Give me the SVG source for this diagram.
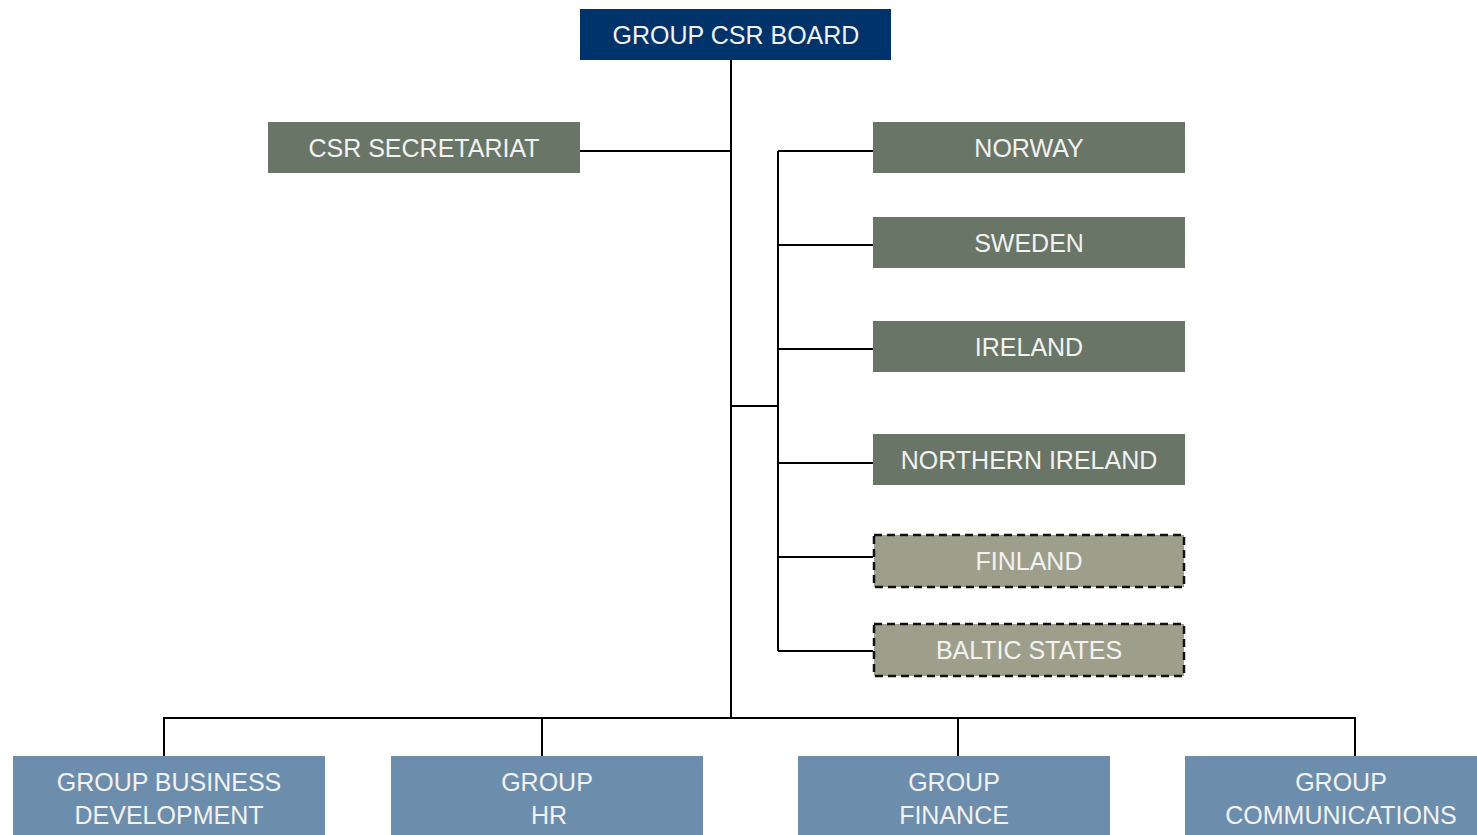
<svg xmlns="http://www.w3.org/2000/svg" width="1477" height="835" viewBox="0 0 1477 835">
<style>
.t{font-family:"Liberation Sans",Arial,sans-serif;font-size:25px;fill:#f2f2f2;text-anchor:middle}
.dk{fill:#697566}
.lt{fill:#9d9f8b;stroke:#111;stroke-width:2.5;stroke-dasharray:8,5}
.bl{fill:#6d8dad}
.c{stroke:#000;stroke-width:2;fill:none}
</style>
<rect width="1477" height="835" fill="#fff"/>
<g id="connectors">
<path class="c" d="M731 60V718M164 756V718H1355V756M542 718V756M958 718V756M580 151H731M731 406H778M778 151V651M778 151H873M778 245H873M778 349H873M778 463H873M778 557H873M778 651H873"/>
</g>
<g id="board"><rect x="580" y="9" width="311" height="51" fill="#00336a"/><text class="t" x="736" y="44">GROUP CSR BOARD</text></g>
<g id="secretariat"><rect class="dk" x="268" y="122" width="312" height="51"/><text class="t" x="424" y="157">CSR SECRETARIAT</text></g>
<g id="norway"><rect class="dk" x="873" y="122" width="312" height="51"/><text class="t" x="1029" y="157">NORWAY</text></g>
<g id="sweden"><rect class="dk" x="873" y="217" width="312" height="51"/><text class="t" x="1029" y="252">SWEDEN</text></g>
<g id="ireland"><rect class="dk" x="873" y="321" width="312" height="51"/><text class="t" x="1029" y="356">IRELAND</text></g>
<g id="northern-ireland"><rect class="dk" x="873" y="434" width="312" height="51"/><text class="t" x="1029" y="469">NORTHERN IRELAND</text></g>
<g id="finland"><rect class="lt" x="874" y="535" width="310" height="52"/><text class="t" x="1029" y="570">FINLAND</text></g>
<g id="baltic"><rect class="lt" x="874" y="624" width="310" height="52"/><text class="t" x="1029" y="659">BALTIC STATES</text></g>
<g id="bizdev"><rect class="bl" x="13" y="756" width="312" height="79"/><text class="t" x="169" y="791">GROUP BUSINESS</text><text class="t" x="169" y="824">DEVELOPMENT</text></g>
<g id="hr"><rect class="bl" x="391" y="756" width="312" height="79"/><text class="t" x="547" y="791">GROUP</text><text class="t" x="549" y="824">HR</text></g>
<g id="finance"><rect class="bl" x="798" y="756" width="312" height="79"/><text class="t" x="954" y="791">GROUP</text><text class="t" x="954" y="824">FINANCE</text></g>
<g id="comms"><rect class="bl" x="1185" y="756" width="292" height="79"/><text class="t" x="1341" y="791">GROUP</text><text class="t" x="1341" y="824">COMMUNICATIONS</text></g>
</svg>
